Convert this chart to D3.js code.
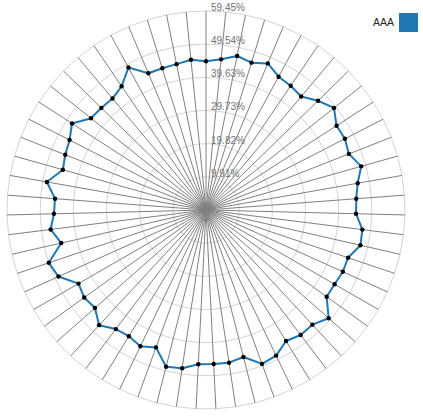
<!DOCTYPE html>
<html>
<head>
<meta charset="utf-8">
<script src="https://cdn.jsdelivr.net/npm/d3@7"></script>
<style>
html,body{margin:0;padding:0;background:#fff;}
svg{display:block;font-family:"Liberation Sans",Arial,Helvetica,sans-serif;}
</style>
</head>
<body>
<svg id="chart" width="423" height="417"></svg>
<script>
// ---- data ----
const seriesName = "AAA";
const categories = d3.range(1, 64).map(i => "axis" + i);
const values = [
  44.42, 45.11, 44.45, 44.30, 44.33, 48.46, 44.75, 43.47, 43.68, 43.94,
  47.65, 45.80, 45.17, 44.42, 48.28, 45.23, 45.44, 46.78, 44.36, 49.53,
  48.34, 43.98, 44.81, 44.24, 46.93, 44.63, 44.18, 45.20, 43.68, 48.31,
  47.83, 46.16, 46.07, 46.13, 45.32, 48.93, 48.28, 45.86, 46.84, 46.72,
  48.87, 44.39, 44.36, 44.84, 44.78, 47.32, 47.08, 44.84, 45.02, 46.01,
  48.16, 45.86, 46.63, 46.42, 48.90, 46.75, 44.24, 44.90, 45.35, 47.53,
  46.07, 46.93, 45.23
];
const levelValues = [9.91, 19.82, 29.73, 39.63, 49.54, 59.45];
const levelLabels = ["9.91%", "19.82%", "29.73%", "39.63%", "49.54%", "59.45%"];
const maxValue = 59.45;

// ---- layout ----
const cx = 206, cy = 210, R = 199;
const svg = d3.select("#chart");
const n = categories.length;

const rScale = d3.scaleLinear().domain([0, maxValue]).range([0, R]);
const aScale = d3.scaleLinear().domain([0, n]).range([0, 2 * Math.PI]);

const g = svg.append("g").attr("transform", `translate(${cx},${cy})`);

// level circles (polygons with n sides)
const levelLine = d3.lineRadial()
  .angle((d, i) => -aScale(i))
  .radius(d => rScale(d))
  .curve(d3.curveLinearClosed);

g.selectAll("path.level")
  .data(levelValues)
  .enter().append("path")
  .attr("class", "level")
  .attr("d", lv => levelLine(categories.map(() => lv)))
  .attr("fill", "none")
  .attr("stroke", "#d4d4d4")
  .attr("stroke-width", 1);

// level labels
g.selectAll("text.lvl")
  .data(levelValues)
  .enter().append("text")
  .attr("class", "lvl")
  .attr("x", 5)
  .attr("y", d => -rScale(d))
  .attr("font-size", 10)
  .attr("fill", "#737373")
  .text((d, i) => levelLabels[i]);

// spokes
g.selectAll("line.axis")
  .data(categories)
  .enter().append("line")
  .attr("class", "axis")
  .attr("x1", 0).attr("y1", 0)
  .attr("x2", (d, i) => -rScale(maxValue) * Math.sin(aScale(i)))
  .attr("y2", (d, i) => -rScale(maxValue) * Math.cos(aScale(i)))
  .attr("stroke", "grey")
  .attr("stroke-width", 1);

// series polygon
const seriesLine = d3.lineRadial()
  .angle((d, i) => -aScale(i))
  .radius(d => rScale(d))
  .curve(d3.curveLinearClosed);

g.append("path")
  .attr("d", seriesLine(values))
  .attr("fill", "none")
  .attr("stroke", "#1f77b4")
  .attr("stroke-width", 2)
  .attr("stroke-linejoin", "round");

// dots
g.selectAll("circle.dot")
  .data(values)
  .enter().append("circle")
  .attr("class", "dot")
  .attr("cx", (d, i) => -rScale(d) * Math.sin(aScale(i)))
  .attr("cy", (d, i) => -rScale(d) * Math.cos(aScale(i)))
  .attr("r", 2.2)
  .attr("fill", "#000");

// legend
const legend = svg.append("g");
legend.append("text")
  .attr("x", 394).attr("y", 26)
  .attr("text-anchor", "end")
  .attr("font-size", 10.5)
  .attr("fill", "#222")
  .text(seriesName);
legend.append("rect")
  .attr("x", 399).attr("y", 13)
  .attr("width", 19).attr("height", 19)
  .attr("fill", "#1f77b4");
</script>
</body>
</html>
